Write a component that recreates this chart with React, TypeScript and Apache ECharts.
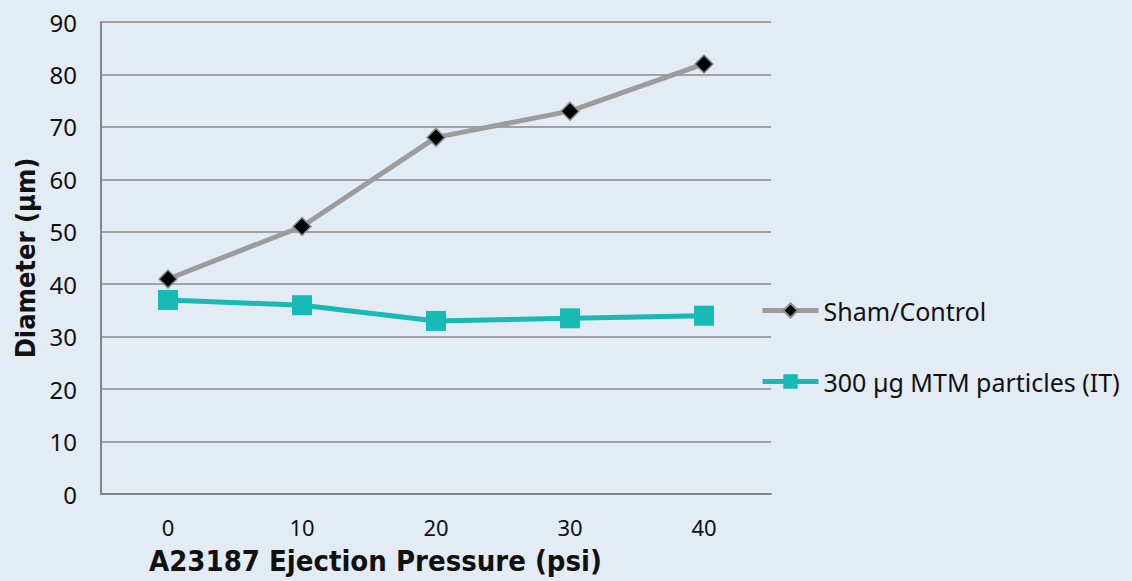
import React, { useEffect, useRef } from "react";
import * as echarts from "echarts";

const categories = ["0", "10", "20", "30", "40"];
const shamValues = [41, 51, 68, 73, 82];
const mtmValues = [37, 36, 33, 33.5, 34];
const seriesNames = ["Sham/Control", "300 µg MTM particles (IT)"];
const yAxisTitle = "Diameter (µm)";
const xAxisTitle = "A23187 Ejection Pressure (psi)";

export default function App() {
  const ref = useRef<HTMLDivElement>(null);
  useEffect(() => {
    if (!ref.current) return;
    const chart = echarts.init(ref.current, undefined, { renderer: "svg" });
    const labelFont = "Noto Sans, DejaVu Sans, sans-serif";
    const boldFont = "DejaVu Sans Condensed, DejaVu Sans, sans-serif";
    chart.setOption({
      animation: false,
      backgroundColor: "#e3ebf5",
      grid: { left: 101, right: 361, top: 22, bottom: 87, containLabel: false },
      legend: {
        orient: "vertical",
        left: 755,
        top: 293,
        itemGap: 46,
        itemWidth: 56,
        itemHeight: 18,
        lineStyle: { width: 5 },
        textStyle: { fontSize: 25, color: "#111", fontFamily: labelFont },
        data: seriesNames,
      },
      xAxis: {
        type: "category",
        data: categories,
        boundaryGap: true,
        axisLine: { show: true, lineStyle: { color: "#858585", width: 2 } },
        axisTick: { show: false },
        axisLabel: { fontSize: 22, color: "#111", margin: 22, fontFamily: labelFont },
        splitLine: { show: false },
      },
      yAxis: {
        type: "value",
        min: 0,
        max: 90,
        interval: 10,
        name: yAxisTitle,
        nameLocation: "middle",
        nameGap: 62,
        nameTextStyle: { fontSize: 27, fontWeight: "bold", color: "#111", fontFamily: boldFont },
        axisLine: { show: true, lineStyle: { color: "#858585", width: 2 } },
        axisTick: { show: false },
        axisLabel: { fontSize: 24, color: "#111", margin: 24, fontFamily: labelFont },
        splitLine: { show: true, lineStyle: { color: "#8a8a8a", width: 1.6 } },
      },
      graphic: [
        {
          type: "text",
          left: 149,
          top: 546,
          style: {
            text: xAxisTitle,
            fontSize: 29,
            fontWeight: "bold",
            fill: "#111",
            fontFamily: boldFont,
          },
        },
      ],
      series: [
        {
          name: seriesNames[0],
          type: "line",
          data: shamValues,
          symbol: "diamond",
          symbolSize: 18,
          itemStyle: { color: "#000", borderColor: "#8e8e8e", borderWidth: 1.5 },
          lineStyle: { color: "#9c9c9c", width: 5 },
          color: "#9c9c9c",
        },
        {
          name: seriesNames[1],
          type: "line",
          data: mtmValues,
          symbol: "rect",
          symbolSize: 20,
          itemStyle: { color: "#17bab4" },
          lineStyle: { color: "#17bab4", width: 5 },
        },
      ],
    });
    return () => chart.dispose();
  }, []);
  return (
    <div
      ref={ref}
      style={{ position: "fixed", left: 0, top: 0, width: 1132, height: 581 }}
    />
  );
}
